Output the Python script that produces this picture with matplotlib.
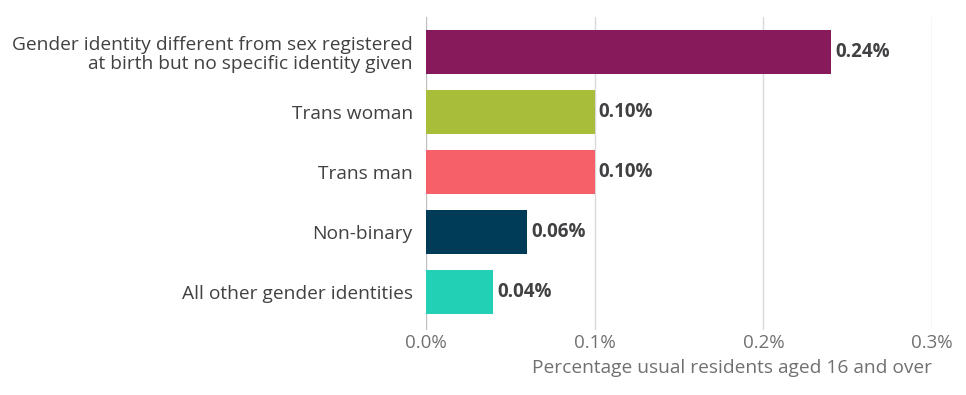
import matplotlib
matplotlib.use("Agg")
import matplotlib.pyplot as plt
from matplotlib.ticker import FuncFormatter

categories = [
    "Gender identity different from sex registered\nat birth but no specific identity given",
    "Trans woman",
    "Trans man",
    "Non-binary",
    "All other gender identities",
]
values = [0.24, 0.10, 0.10, 0.06, 0.04]
value_labels = ["0.24%", "0.10%", "0.10%", "0.06%", "0.04%"]
colors = ["#871A5B", "#A8BD3A", "#F66068", "#003C57", "#22D0B6"]
xticks = [0.0, 0.1, 0.2, 0.3]
xlabel = "Percentage usual residents aged 16 and over"

plt.rcParams['font.family'] = ['Open Sans', 'DejaVu Sans']

fig = plt.figure(figsize=(9.66, 3.95), dpi=100)
ax = fig.add_axes([426/966, 1-330/395, (932-426)/966, (330-17)/395])

y = list(range(len(categories)))
ax.barh(y, values, height=0.73, color=colors, zorder=3)
for yi, v, lab in zip(y, values, value_labels):
    ax.annotate(lab, (v, yi), xytext=(3, 0), textcoords="offset points",
                va="center", ha="left", fontsize=13.5, fontweight="bold",
                color="#414042")

ax.set_ylim(4.633, -0.583)
ax.set_xlim(0, 0.3)
ax.set_yticks(y)
ax.set_yticklabels(categories, fontsize=13.8, color="#414042")
ax.set_xticks(xticks)
ax.xaxis.set_major_formatter(FuncFormatter(lambda v, p: f"{v:.1f}%"))
ax.tick_params(axis="x", labelsize=13.5, labelcolor="#707071", length=0, pad=3)
ax.tick_params(axis="y", length=0, pad=9.5)
for t in ax.get_yticklabels():
    t.set_multialignment("right")
    t.set_linespacing(1.05)

ax.grid(axis="x", color="#D9D9D9", linewidth=1, zorder=0)
ax.axvline(0, color="#BEBEBE", linewidth=1.5, zorder=2)
for s in ax.spines.values():
    s.set_visible(False)

ax.set_xlabel(xlabel, fontsize=13.8, color="#707071", loc="right", labelpad=5)

fig.savefig("out.png", dpi=100, facecolor="white")
